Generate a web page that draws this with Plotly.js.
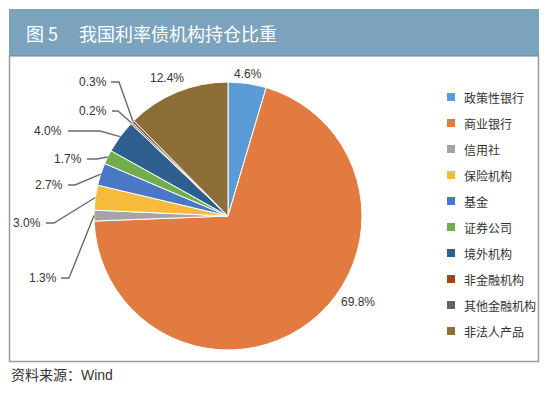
<!DOCTYPE html>
<html>
<head>
<meta charset="utf-8">
<script src="https://cdn.plot.ly/plotly-3.0.1.min.js"></script>
<style>html,body{margin:0;padding:0;background:#fff;}#chart{width:550px;height:397px;}</style>
</head>
<body>
<div id="chart"></div>
<script>
// ---- data ----
const categories = ["政策性银行","商业银行","信用社","保险机构","基金","证券公司","境外机构","非金融机构","其他金融机构","非法人产品"];
const shares = [4.6, 69.8, 1.3, 3.0, 2.7, 1.7, 4.0, 0.2, 0.3, 12.4];
const sliceColors = ["#5B9BD5","#E27B40","#A5A5A5","#F6BB3A","#4A78C4","#71AD4A","#2E5F8E","#9E480E","#636363","#8D6E36"];
const titleNum = "图 5";
const titleText = "我国利率债机构持仓比重";
const sourceText = "资料来源：Wind";

// ---- layout constants (pixels) ----
const W = 550, H = 397;
const CX = 228, CY = 216, R = 134;
// label placement: text centre, and optional leader start / elbow x
const labelPos = [
  {x:248, y:74},
  {x:358, y:302},
  {x:43,  y:278, l0:61, l1:69},
  {x:27,  y:223, l0:46, l1:54},
  {x:49,  y:185, l0:68, l1:75},
  {x:68,  y:159, l0:87, l1:97},
  {x:48,  y:131, l0:68, l1:100},
  {x:93,  y:111, l0:112, l1:118},
  {x:93,  y:82,  l0:111, l1:119},
  {x:167, y:78}
];
const LEG_MX = 451, LEG_TX = 462, LEG_Y0 = 97, LEG_DY = 26;

const font = "Liberation Sans, Arial, Noto Sans CJK SC, sans-serif";
const cjk = "Noto Sans CJK SC, sans-serif";

const total = shares.reduce((a,b)=>a+b,0);
const shapes = [];
const annotations = [];

// title bar and panel
shapes.push({type:'rect', xref:'x', yref:'y', x0:9, x1:539, y0:9, y1:56, fillcolor:'#7CA3BE', line:{width:0}, layer:'above'});
shapes.push({type:'line', xref:'x', yref:'y', x0:9, x1:539, y0:56, y1:56, line:{color:'#62829A', width:1.2}, layer:'above'});
shapes.push({type:'path', xref:'x', yref:'y', path:'M 9.5 56 L 9.5 361.5 L 538.5 361.5 L 538.5 56', line:{color:'#9A9A9A', width:1.5}, layer:'above'});

annotations.push({xref:'x', yref:'y', x:24, y:33, xanchor:'left', yanchor:'middle', text:titleNum, showarrow:false, font:{family:cjk, size:18, color:'#ffffff'}});
annotations.push({xref:'x', yref:'y', x:77, y:33, xanchor:'left', yanchor:'middle', text:titleText, showarrow:false, font:{family:cjk, size:18, color:'#ffffff'}});
annotations.push({xref:'x', yref:'y', x:9, y:375, xanchor:'left', yanchor:'middle', text:sourceText, showarrow:false, font:{family:font, size:14, color:'#333333'}});

// value labels and leader lines
let cum = 0;
shares.forEach((v,i)=>{
  const mid = (cum + v/2)/total*2*Math.PI;
  cum += v;
  const p = labelPos[i];
  annotations.push({xref:'x', yref:'y', x:p.x, y:p.y, xanchor:'center', yanchor:'middle', text:v.toFixed(1)+'%', showarrow:false, font:{family:font, size:12, color:'#333333'}});
  if (p.l0 !== undefined) {
    const ex = CX + R*Math.sin(mid), ey = CY - R*Math.cos(mid);
    shapes.push({type:'path', xref:'x', yref:'y', path:`M ${p.l0} ${p.y} L ${p.l1} ${p.y} L ${ex.toFixed(1)} ${ey.toFixed(1)}`, line:{color:'#6B6B6B', width:1.4}, layer:'above'});
  }
});

// legend texts
categories.forEach((c,i)=>{
  annotations.push({xref:'x', yref:'y', x:LEG_TX, y:LEG_Y0 + i*LEG_DY, xanchor:'left', yanchor:'middle', text:c, showarrow:false, font:{family:cjk, size:12, color:'#333333'}});
});

const pie = {
  type:'pie', values:shares, labels:categories, sort:false, direction:'clockwise', rotation:0,
  marker:{colors:sliceColors, line:{color:'#ffffff', width:1}},
  textinfo:'none', hoverinfo:'label+percent', showlegend:false,
  domain:{x:[(CX-R)/W,(CX+R)/W], y:[(H-CY-R)/H,(H-CY+R)/H]}
};

const legendTrace = {
  type:'scatter', mode:'markers', xaxis:'x', yaxis:'y',
  x: categories.map(()=>LEG_MX),
  y: categories.map((_,i)=>LEG_Y0 + i*LEG_DY),
  marker:{symbol:'square', size:8, color:sliceColors},
  hoverinfo:'skip', showlegend:false, cliponaxis:false
};

const layout = {
  width:W, height:H, autosize:false,
  margin:{l:0,r:0,t:0,b:0}, paper_bgcolor:'#ffffff', plot_bgcolor:'rgba(0,0,0,0)',
  showlegend:false,
  xaxis:{range:[0,W], domain:[0,1], visible:false, fixedrange:true},
  yaxis:{range:[H,0], domain:[0,1], visible:false, fixedrange:true},
  shapes:shapes, annotations:annotations
};

Plotly.newPlot('chart', [pie, legendTrace], layout, {staticPlot:true});
</script>
</body>
</html>
